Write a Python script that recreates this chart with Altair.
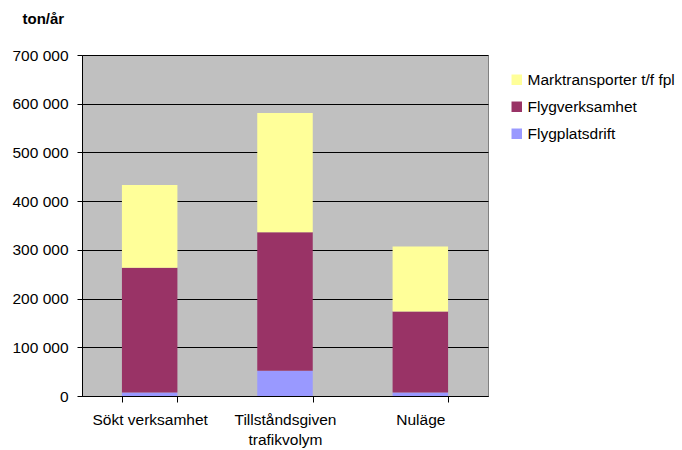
import altair as alt
import pandas as pd

# Annual emissions (ton/år) per scenario, split by source
categories = ["Sökt verksamhet", "Tillståndsgiven trafikvolym", "Nuläge"]
series = ["Marktransporter t/f fpl", "Flygverksamhet", "Flygplatsdrift"]
flygplatsdrift = [7000, 52000, 7000]
flygverksamhet = [256500, 284000, 166500]
marktransporter = [169500, 245000, 133500]
y_ticks = [0, 100000, 200000, 300000, 400000, 500000, 600000, 700000]

colors = ["#FFFF99", "#993366", "#9999FF"]
stack_rank = {"Flygplatsdrift": 0, "Flygverksamhet": 1, "Marktransporter t/f fpl": 2}

rows = []
for i, cat in enumerate(categories):
    for name, vals in [("Flygplatsdrift", flygplatsdrift),
                       ("Flygverksamhet", flygverksamhet),
                       ("Marktransporter t/f fpl", marktransporter)]:
        rows.append({"kategori": cat, "källa": name, "värde": vals[i],
                     "rank": stack_rank[name]})
df = pd.DataFrame(rows)

FONT = "Liberation Sans"

chart = alt.Chart(df).mark_bar(stroke=None).encode(
    x=alt.X("kategori:N", sort=categories,
            scale=alt.Scale(paddingInner=0.59, paddingOuter=0.295),
            axis=alt.Axis(title=None, labelAngle=0, tickBand="extent",
                          domainColor="black", tickColor="black", tickSize=6,
                          labelFontSize=15.5, labelColor="black", labelPadding=10,
                          labelLineHeight=20, labelFont=FONT,
                          labelExpr="datum.value == 'Tillståndsgiven trafikvolym' ? ['Tillståndsgiven', 'trafikvolym'] : datum.value")),
    y=alt.Y("värde:Q", stack="zero",
            scale=alt.Scale(domain=[0, 700000], nice=False),
            axis=alt.Axis(values=y_ticks, title="ton/år", titleAngle=0,
                          titleAlign="left", titleBaseline="alphabetic",
                          titleX=-60, titleY=-32, titleFontSize=15,
                          titleFontWeight="bold", titleFont=FONT,
                          labelExpr="replace(format(datum.value, ','), ',', ' ')",
                          labelFontSize=15.5, labelFont=FONT, labelColor="black",
                          labelPadding=9, tickSize=5, tickColor="black",
                          domainColor="black", gridColor="black", gridOpacity=1,
                          gridWidth=1)),
    color=alt.Color("källa:N", scale=alt.Scale(domain=series, range=colors),
                    legend=alt.Legend(title=None, orient="none", legendX=427,
                                      legendY=17, symbolType="square",
                                      symbolSize=110, symbolStrokeWidth=0,
                                      labelFontSize=15.5, labelFont=FONT,
                                      labelColor="black", rowPadding=10,
                                      labelOffset=3)),
    order=alt.Order("rank:Q", sort="ascending"),
).properties(
    width=406, height=341,
    autosize=alt.AutoSizeParams(type="none"),
    padding={"left": 82, "top": 55, "right": 194, "bottom": 54},
).configure(
    background="white"
).configure_view(
    fill="#C0C0C0", stroke="#808080"
)

chart.save("out.html", embed_options={"renderer": "svg", "actions": False})
